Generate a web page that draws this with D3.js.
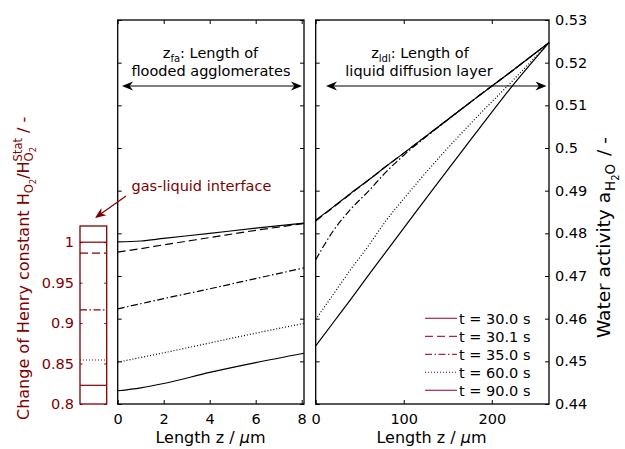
<!DOCTYPE html>
<html>
<head>
<meta charset="utf-8">
<script src="https://cdn.jsdelivr.net/npm/d3@7"></script>
<style>
    body { margin: 0; background: #fff; }
    text { font-family: "DejaVu Sans", sans-serif; }
</style>
</head>
<body>
<svg id="chart" width="625" height="449"></svg>
<script>

// legend entries
var times = ["t = 30.0 s", "t = 30.1 s", "t = 35.0 s", "t = 60.0 s", "t = 90.0 s"];

// flooded agglomerates, z in um, water activity
var faZ = [0, 1, 2, 4, 6, 8.1];
var fa300 = [0.4780, 0.4782, 0.4788, 0.4800, 0.4812, 0.4824];
var fa301 = [0.4756, 0.4764, 0.4773, 0.4790, 0.4807, 0.4823];
var fa350 = [0.4623, 0.4635, 0.4647, 0.4670, 0.4694, 0.4719];
var fa600 = [0.4498, 0.4509, 0.4520, 0.4543, 0.4566, 0.4589];
var fa900 = [0.4431, 0.4438, 0.4448, 0.4474, 0.4497, 0.4519];

// liquid diffusion layer, z in um, water activity
var ldlZ = [0, 20, 40, 60, 80, 100, 140, 180, 220, 265];
var ldl300 = [0.4831, 0.4862, 0.4894, 0.4925, 0.4957, 0.4988, 0.5051, 0.5114, 0.5176, 0.5247];
var ldl301 = [0.4829, 0.4861, 0.4893, 0.4925, 0.4957, 0.4988, 0.5051, 0.5114, 0.5176, 0.5247];
var ldl350 = [0.4738, 0.4806, 0.4857, 0.4899, 0.4944, 0.4983, 0.5050, 0.5114, 0.5176, 0.5247];
var ldl600 = [0.4598, 0.4657, 0.4716, 0.4771, 0.4830, 0.4881, 0.4977, 0.5066, 0.5150, 0.5247];
var ldl900 = [0.4536, 0.4591, 0.4646, 0.4702, 0.4757, 0.4812, 0.4922, 0.5030, 0.5137, 0.5247];

// Henry constant ratio at the gas-liquid interface
var henry = [1.0, 0.9864, 0.9163, 0.8544, 0.8231];

var actTicks = [0.44, 0.45, 0.46, 0.47, 0.48, 0.49, 0.50, 0.51, 0.52, 0.53];
var henryTicks = [0.8, 0.85, 0.9, 0.95, 1];
var faTicks = [0, 2, 4, 6, 8];
var ldlTicks = [0, 100, 200];

var faSeries = [fa300, fa301, fa350, fa600, fa900];
var ldlSeries = [ldl300, ldl301, ldl350, ldl600, ldl900];

var dashes = [null, "8,4", "7,2.5,1.5,2.5", "1,2", null];
var red = "#800000";
var legendRed = "#a8294b";

var svg = d3.select("#chart");

var yTop = 20, yBot = 404;
var y = d3.scaleLinear().domain([0.44, 0.53]).range([yBot, yTop]);
var xFa = d3.scaleLinear().domain([0, 8.1]).range([117.7, 304]);
var xLdl = d3.scaleLinear().domain([0, 265]).range([315.7, 549]);
var yHenry = d3.scaleLinear().domain([0.8, 1.02]).range([yBot, 226]);

function fmt(d) { return String(+d.toFixed(2)); }

function panel(x, ticks, zs, series, showRight) {
    var x0 = x.range()[0], x1 = x.range()[1];
    var g = svg.append("g");

    g.append("g")
        .attr("transform", "translate(0," + yBot + ")")
        .call(d3.axisBottom(x).tickValues(ticks).tickSizeInner(-4).tickSizeOuter(0).tickPadding(10))
        .call(function(a) { a.select(".domain").remove(); a.selectAll("text").style("font-size", "14.5px").attr("fill", "#000"); });

    g.append("g")
        .attr("transform", "translate(0," + yTop + ")")
        .call(d3.axisTop(x).tickValues(ticks).tickSizeInner(-4).tickSizeOuter(0).tickFormat(""))
        .call(function(a) { a.select(".domain").remove(); });

    g.append("g")
        .attr("transform", "translate(" + x0 + ",0)")
        .call(d3.axisLeft(y).tickValues(actTicks).tickSizeInner(-4).tickSizeOuter(0).tickFormat(""))
        .call(function(a) { a.select(".domain").remove(); });

    var right = d3.axisRight(y).tickValues(actTicks).tickSizeInner(-4).tickSizeOuter(0).tickPadding(6).tickFormat(fmt);
    if (!showRight) right.tickFormat("");
    g.append("g")
        .attr("transform", "translate(" + x1 + ",0)")
        .call(right)
        .call(function(a) { a.select(".domain").remove(); a.selectAll("text").style("font-size", "14.5px").attr("fill", "#000"); });

    var line = d3.line()
        .curve(d3.curveMonotoneX)
        .x(function(d, i) { return x(zs[i]); })
        .y(function(d) { return y(d); });

    // draw bottom to top so the solid t = 30.0 s stays on top
    [4, 3, 2, 1, 0].forEach(function(k) {
        g.append("path")
            .attr("d", line(series[k]))
            .attr("fill", "none")
            .attr("stroke", "#000")
            .attr("stroke-width", 1.2)
            .attr("stroke-dasharray", dashes[k]);
    });

    g.append("rect")
        .attr("x", x0).attr("y", yTop)
        .attr("width", x1 - x0).attr("height", yBot - yTop)
        .attr("fill", "none").attr("stroke", "#000").attr("stroke-width", 1.3);
}

panel(xFa, faTicks, faZ, faSeries, false);
panel(xLdl, ldlTicks, ldlZ, ldlSeries, true);

// Henry box
var hx0 = 80, hx1 = 106.7;
var hg = svg.append("g");
hg.append("g")
    .attr("transform", "translate(" + hx0 + ",0)")
    .call(d3.axisLeft(yHenry).tickValues(henryTicks).tickSizeInner(-2.5).tickSizeOuter(0).tickPadding(6).tickFormat(fmt))
    .call(function(a) {
        a.select(".domain").remove();
        a.selectAll("line").attr("stroke", red);
        a.selectAll("text").style("font-size", "14.5px").attr("fill", red);
    });
hg.append("g")
    .attr("transform", "translate(" + hx1 + ",0)")
    .call(d3.axisRight(yHenry).tickValues(henryTicks).tickSizeInner(-2.5).tickSizeOuter(0).tickFormat(""))
    .call(function(a) { a.select(".domain").remove(); a.selectAll("line").attr("stroke", red); });

hg.selectAll("line.h")
    .data(henry)
    .enter().append("line")
    .attr("class", "h")
    .attr("x1", hx0).attr("x2", hx1)
    .attr("y1", function(d) { return yHenry(d); })
    .attr("y2", function(d) { return yHenry(d); })
    .attr("stroke", red)
    .attr("stroke-width", 1.2)
    .attr("stroke-dasharray", function(d, i) { return dashes[i]; });

hg.append("rect")
    .attr("x", hx0).attr("y", yHenry(1.02))
    .attr("width", hx1 - hx0).attr("height", yBot - yHenry(1.02))
    .attr("fill", "none").attr("stroke", red).attr("stroke-width", 1.3);

// legend
var lg = svg.append("g");
times.forEach(function(t, i) {
    var ly = 318.3 + 18 * i;
    lg.append("line")
        .attr("x1", 425).attr("x2", 457)
        .attr("y1", ly).attr("y2", ly)
        .attr("stroke", legendRed).attr("stroke-width", 1.2)
        .attr("stroke-dasharray", dashes[i]);
    lg.append("text")
        .attr("x", 459).attr("y", ly).attr("dy", "0.36em")
        .style("font-size", "14.5px")
        .text(t);
});

// arrows
function arrowHead(g, xa, ya, xb, yb, color, len, half) {
    var ang = Math.atan2(yb - ya, xb - xa);
    var c = Math.cos(ang), s = Math.sin(ang);
    function p(u, v) { return [xb - u * c - v * s, yb - u * s + v * c]; }
    var pts = [p(0, 0), p(len, half), p(len * 0.7, 0), p(len, -half)];
    g.append("path")
        .attr("d", "M" + pts.map(function(q) { return q.join(","); }).join("L") + "Z")
        .attr("fill", color);
}

function dblArrow(xa, xb, ya) {
    svg.append("line")
        .attr("x1", xa + 4).attr("x2", xb - 4).attr("y1", ya).attr("y2", ya)
        .attr("stroke", "#000").attr("stroke-width", 1.2);
    arrowHead(svg, xb, ya, xa, ya, "#000", 11, 4.5);
    arrowHead(svg, xa, ya, xb, ya, "#000", 11, 4.5);
}

dblArrow(122, 302, 86);
dblArrow(326, 546.5, 86);

svg.append("line")
    .attr("x1", 126).attr("y1", 196).attr("x2", 100).attr("y2", 214.5)
    .attr("stroke", red).attr("stroke-width", 1.3);
arrowHead(svg, 126, 196, 95, 218, red, 11, 4.5);

// annotations
function subText(xc, yb, main, sub, rest) {
    var t = svg.append("text")
        .attr("x", xc).attr("y", yb)
        .attr("text-anchor", "middle")
        .style("font-size", "14.5px");
    t.append("tspan").text(main);
    t.append("tspan").attr("dy", 4).style("font-size", "10px").text(sub);
    t.append("tspan").attr("dy", -4).text(rest);
}

subText(210.5, 58, "z", "fa", ": Length of");
svg.append("text").attr("x", 211).attr("y", 76).attr("text-anchor", "middle")
    .style("font-size", "14.5px").text("flooded agglomerates");
subText(420, 58, "z", "ldl", ": Length of");
svg.append("text").attr("x", 419).attr("y", 76).attr("text-anchor", "middle")
    .style("font-size", "14.5px").text("liquid diffusion layer");

svg.append("text").attr("x", 131.5).attr("y", 191)
    .style("font-size", "14.5px").attr("fill", red)
    .text("gas-liquid interface");

// axis titles
function mu(t) {
    t.append("tspan").text("Length z / ");
    t.append("tspan").style("font-style", "italic").text("\u03bc");
    t.append("tspan").text("m");
}
svg.append("text").attr("x", 210.5).attr("y", 443).attr("text-anchor", "middle")
    .style("font-size", "16px").call(mu);
svg.append("text").attr("x", 431.5).attr("y", 443).attr("text-anchor", "middle")
    .style("font-size", "16px").call(mu);

// left title, Henry constant
var lt = svg.append("text")
    .attr("transform", "translate(29,420) rotate(-90)")
    .style("font-size", "16px")
    .attr("fill", red);
lt.append("tspan").text("Change of Henry constant H");
lt.append("tspan").attr("dy", 4).style("font-size", "11.5px").text("O");
lt.append("tspan").attr("dy", 3).style("font-size", "8.5px").text("2");
lt.append("tspan").attr("dy", -7).text("/H");
var st = lt.append("tspan").attr("dy", -7).style("font-size", "11.5px").text("Stat");
var stLen = st.node().getComputedTextLength();
var o2 = lt.append("tspan").attr("dx", -stLen).attr("dy", 11).style("font-size", "11.5px").text("O");
var o2b = lt.append("tspan").attr("dy", 3).style("font-size", "8.5px").text("2");
var subLen = o2.node().getComputedTextLength() + o2b.node().getComputedTextLength();
lt.append("tspan").attr("dx", Math.max(0, stLen - subLen)).attr("dy", -7).text(" / -");

// right title, water activity
var rt = svg.append("text")
    .attr("transform", "translate(610,338) rotate(-90)")
    .style("font-size", "18.5px");
rt.append("tspan").text("Water activity a");
rt.append("tspan").attr("dx", 1).attr("dy", 5).style("font-size", "13.5px").text("H");
rt.append("tspan").attr("dy", 3.5).style("font-size", "10px").text("2");
rt.append("tspan").attr("dy", -3.5).style("font-size", "13.5px").text("O");
rt.append("tspan").attr("dx", 2).attr("dy", -5).text(" / -");

</script>
</body>
</html>
